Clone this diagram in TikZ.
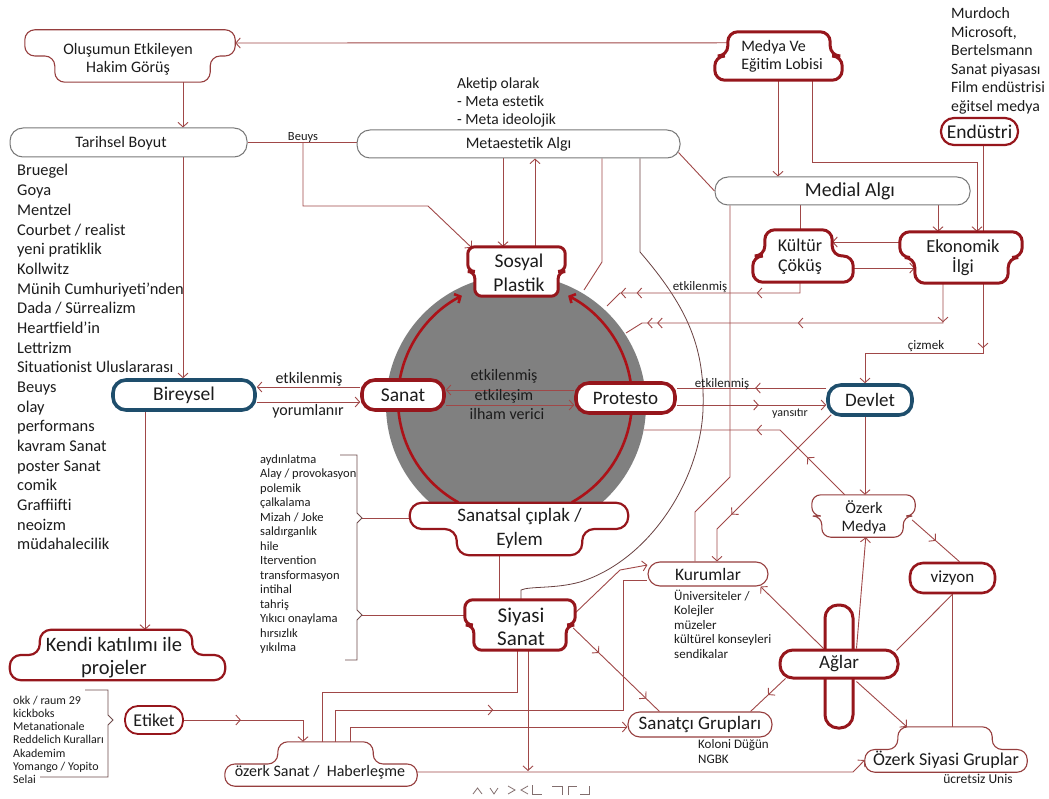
\documentclass[tikz,border=0pt]{standalone}
\usepackage{fontspec}
\setmainfont{Carlito}
\usetikzlibrary{arrows.meta,calc,decorations.markings}
\pgfdeclarelayer{back}
\pgfdeclarelayer{bg}
\pgfsetlayers{back,bg,main}
\newcommand\myfs[2]{\fontsize{#1}{#2}\selectfont}
\definecolor{linec}{RGB}{160,72,72}
\definecolor{arcc}{RGB}{105,65,65}
\definecolor{brc}{RGB}{110,75,75}
\definecolor{dred}{RGB}{150,22,28}
\definecolor{tred}{RGB}{150,62,62}
\definecolor{gbord}{RGB}{120,120,120}
\definecolor{blu}{RGB}{30,78,108}
\definecolor{circg}{RGB}{128,128,128}
\definecolor{circr}{RGB}{172,18,24}
\definecolor{txtc}{RGB}{28,28,28}
\definecolor{symc}{RGB}{130,110,110}
\tikzset{
  >={Straight Barb[length=4.5pt,width=10pt]},
  cn/.style={draw=linec, line width=0.9pt},
  am/.style={postaction={decorate,decoration={markings,mark=at position #1 with {\arrow{>}}}}},
  sh/.style={inner sep=0pt, draw=none},
  pill/.style={inner sep=0pt, rounded corners=#1, fill=white, text=txtc},
  pill/.default=13pt,
  thickr/.style={draw=dred, line width=3pt},
  medr/.style={draw=dred, line width=2.2pt},
  thinr/.style={draw=tred, line width=1.1pt},
  grayb/.style={draw=gbord, line width=1pt},
  bluet/.style={draw=blu, line width=3.6pt},
  scr/.style={fill=white, rounded corners=#1},
  scr/.default=10pt,
  tx/.style={inner sep=0pt, text=txtc, align=center},
}
\newcommand\scrollpath[6]{%
  \path[#1] (#2.north) -- ($(#2.north east)+(-#4,0)$) -- ($(#2.east)+(-#4,0)$)
   -- ($(#2.east)+(-#6,0)$) -- ($(#2.south east)+(-#6,0)$)
   -- ($(#2.south west)+(#5,0)$) -- ($(#2.west)+(#5,0)$)
   -- ($(#2.west)+(#3,0)$) -- ($(#2.north west)+(#3,0)$) -- cycle;}
\newcommand\listlines[6]{%
  \foreach \itm [count=\i from 0] in {#6}{%
    \node[tx, anchor=base west, align=left, font=\myfs{#5}{#5}] (#1\i) at (#2,{#3+\i*#4}) {\itm};}}
\begin{document}
\begin{tikzpicture}[x=1pt,y=-1pt]
\begin{pgfonlayer}{back}
\fill[white] (0,0) rectangle (1049,799);
\end{pgfonlayer}
\useasboundingbox (0,0) rectangle (1049,799);

% ---------- invisible shape boxes ----------
\node[sh, minimum width=210pt, minimum height=52pt] (olus) at (130,56) {};
\node[sh, minimum width=127pt, minimum height=48pt] (medya) at (778.5,56) {};
\node[sh, minimum width=100pt, minimum height=52pt] (kultur) at (803,256) {};
\node[sh, minimum width=122pt, minimum height=51pt] (ekonomik) at (961,257.5) {};
\node[sh, minimum width=97pt, minimum height=49pt] (sosyal) at (516.5,271.5) {};
\node[sh, minimum width=218pt, minimum height=52pt] (sanatsal) at (519,529) {};
\node[sh, minimum width=110pt, minimum height=50pt] (siyasi) at (520,625) {};
\node[sh, minimum width=103pt, minimum height=42pt] (ozmed) at (863.5,516) {};
\node[sh, minimum width=162pt, minimum height=45pt] (ozsiy) at (946,749.5) {};
\node[sh, minimum width=192pt, minimum height=44pt] (ozsan) at (321,764) {};
\node[sh, minimum width=215pt, minimum height=50pt] (kendi) at (117.5,655) {};

% ---------- pills ----------
\node[pill, grayb, minimum width=237pt, minimum height=29pt] (tarih) at (128.5,142.5) {};
\node[pill, grayb, minimum width=323pt, minimum height=28pt, font=\myfs{16}{16}] (meta) at (518.5,144) {Metaestetik Algı};
\node[pill, grayb, minimum width=255pt, minimum height=28pt] (medial) at (842.5,191) {};
\node[pill, medr, minimum width=77pt, minimum height=27pt, font=\myfs{19.5}{19.5}] (endustri) at (979.5,131.5) {Endüstri};
\node[pill, thickr, line width=3.6pt, minimum width=82pt, minimum height=30pt, font=\myfs{19.5}{19.5}] (sanat) at (403,395) {Sanat};
\node[pill, thickr, line width=3.6pt, minimum width=99pt, minimum height=30pt, font=\myfs{19}{19}] (protesto) at (625.5,398) {Protesto};
\node[pill, bluet, minimum width=142pt, minimum height=30pt, font=\myfs{19.5}{19.5}] (bireysel) at (184,395) {Bireysel};
\node[pill, bluet, minimum width=84pt, minimum height=30pt, font=\myfs{19}{19}] (devlet) at (870,400) {Devlet};
\node[pill=12pt, thinr, minimum width=120pt, minimum height=24pt, font=\myfs{17.5}{17.5}] (kurumlar) at (708,574) {Kurumlar};
\node[pill=12pt, thinr, minimum width=144pt, minimum height=25pt, font=\myfs{19}{19}] (sanatci) at (700,724.5) {Sanatçı Grupları};
\node[pill=13pt, thickr, minimum width=28pt, minimum height=123pt] (aglarV) at (839,666.5) {};
\node[pill=13pt, thickr, minimum width=118pt, minimum height=28pt, font=\myfs{19}{19}] (aglarH) at (839,664) {Ağlar};
\node[pill, thickr, line width=2.6pt, minimum width=85pt, minimum height=30pt, font=\myfs{17}{17}] (vizyon) at (952.5,578) {vizyon};
\node[pill, medr, line width=1.8pt, minimum width=58pt, minimum height=28pt, font=\myfs{18}{18}] (etiket) at (154,720) {Etiket};

% ---------- scroll outlines ----------
\scrollpath{scr, thinr}{olus}{0}{0}{30}{25}
\scrollpath{scr, thickr}{medya}{13}{12}{0}{0}
\scrollpath{scr, thickr}{kultur}{12}{21}{0}{0}
\scrollpath{scr, thickr}{ekonomik}{0}{0}{15}{14}
\scrollpath{scr=7pt, thickr}{sosyal}{0}{0}{7}{7}
\scrollpath{scr=12pt, medr}{sanatsal}{0}{0}{47}{46}
\scrollpath{scr=8pt, thickr}{siyasi}{0}{0}{9}{9}
\scrollpath{scr=9pt, thinr}{ozmed}{0}{0}{10}{12}
\scrollpath{scr, thinr}{ozsiy}{33}{35}{0}{0}
\scrollpath{scr, thinr}{ozsan}{53}{44}{0}{0}
\scrollpath{scr=11pt, medr}{kendi}{30}{33}{0}{0}

% ---------- texts in shapes ----------
\node[tx, font=\myfs{16}{18}] (olusT) at (128,59.5) {Oluşumun Etkileyen\\Hakim Görüş};
\node[tx, font=\myfs{16}{16}] (tarihT) at (121,143) {Tarihsel Boyut};
\node[tx, font=\myfs{19.8}{19.8}] (medialT) at (850,191) {Medial Algı};
\node[tx, align=left, font=\myfs{16}{18}] (medyaT) at (782,56) {Medya Ve\\Eğitim Lobisi};
\node[tx, font=\myfs{18}{20}] (kulturT) at (800,257) {Kültür\\Çöküş};
\node[tx, font=\myfs{18.4}{20}] (ekonomikT) at (963,257.5) {Ekonomik\\İlgi};
\node[tx, font=\myfs{19.5}{24}] (sosyalT) at (519,272.5) {Sosyal\\Plastik};
\node[tx, font=\myfs{19}{24}] (sanatsalT) at (519.5,528) {Sanatsal çıplak /\\Eylem};
\node[tx, font=\myfs{21}{23}] (siyasiT) at (521,626.5) {Siyasi\\Sanat};
\node[tx, font=\myfs{16}{18}] (ozmedT) at (864,517) {Özerk\\Medya};
\node[tx, anchor=base, font=\myfs{18}{18}] (ozsiyT) at (946,765) {Özerk Siyasi Gruplar};
\node[tx, anchor=base, font=\myfs{16}{16}] (ozsanT) at (320,776) {özerk Sanat /\ \ Haberleşme};
\node[tx, font=\myfs{20.5}{23}] (kendiT) at (114,657.5) {Kendi katılımı ile\\projeler};

% ---------- labels ----------
\node[tx, anchor=base, font=\myfs{16}{16}] (cA) at (504,381) {etkilenmiş};
\node[tx, anchor=base, font=\myfs{16}{16}] (cB) at (504,400) {etkileşim};
\node[tx, anchor=base, font=\myfs{16}{16}] (cC) at (507,419) {ilham verici};
\node[tx, anchor=base, font=\myfs{16}{16}] (lbE) at (309,383) {etkilenmiş};
\node[tx, anchor=base, font=\myfs{16}{16}] (lbY) at (308,415) {yorumlanır};
\node[tx, anchor=base, font=\myfs{13}{13}] (lbE2) at (722,387) {etkilenmiş};
\node[tx, anchor=base, font=\myfs{12}{12}] (lbYa) at (790,416) {yansıtır};
\node[tx, anchor=base, font=\myfs{13}{13}] (lbC) at (926,350) {çizmek};
\node[tx, anchor=base, font=\myfs{13}{13}] (lbE3) at (700,291) {etkilenmiş};
\node[tx, anchor=base, font=\myfs{12.5}{12.5}] (lbB) at (303,141) {Beuys};
\node[tx, anchor=base, font=\myfs{13.5}{13.5}] (lbU) at (978,783) {ücretsiz Unis};

% ---------- lists ----------
\listlines{L}{17}{176}{19.68}{16.4}{Bruegel,Goya,Mentzel,Courbet / realist,yeni pratiklik,Kollwitz,Münih Cumhuriyeti'nden,Dada / Sürrealizm,Heartfield'in,Lettrizm,Situationist Uluslararası,Beuys,olay,performans,kavram Sanat,poster Sanat,comik,Graffiifti,neoizm,müdahalecilik}
\listlines{A}{457}{89}{17.75}{15.5}{Aketip olarak,- Meta estetik,- Meta ideolojik}
\listlines{M}{951}{19}{18.5}{15.8}{Murdoch,{Microsoft,},Bertelsmann,Sanat piyasası,Film endüstrisi,eğitsel medya}
\listlines{K}{260}{463.5}{14.46}{12.5}{aydınlatma,Alay / provokasyon,polemik,çalkalama,Mizah / Joke,saldırganlık,hile,Itervention,transformasyon,intihal,tahriş,Yıkıcı onaylama,hırsızlık,yıkılma}
\listlines{O}{13}{704}{13.33}{12}{okk / raum 29,kickboks,Metanationale,Reddelich Kuralları,Akademim,Yomango / Yopito,Selai}
\listlines{U}{674}{600}{14.5}{13}{Üniversiteler /,Kolejler,müzeler,kültürel konseyleri,sendikalar}
\listlines{G}{698}{748}{15}{13}{Koloni Düğün,NGBK}

% ---------- free coordinates ----------
\coordinate (gA) at (584,290);
\coordinate (gB) at (607,306);
\coordinate (gC) at (626,333);
\coordinate (gD) at (644,430);
\coordinate (n1) at (362,518);
\coordinate (n2) at (362,615);
\coordinate (j1) at (528,771);

\begin{pgfonlayer}{bg}
\fill[circg] (516,405) circle[radius=130];
\draw[circr, line width=2.6pt, ->] ($(515,400)+(119:117)$) arc[start angle=119, end angle=243, radius=117];
\draw[circr, line width=2.6pt, ->] ($(515,400)+(61:117)$) arc[start angle=61, end angle=-63, radius=117];

% top
\draw[cn,->] ($(medya.north west)+(13,11)$) -- (olus.east |- 0,43);
\draw[cn,->] (183,0 |- olus.south) -- (183,0 |- tarih.north);
\draw[cn] (tarih.east) -- (tarih.east -| meta.west);
\draw[cn,->] (303,0 |- tarih.east) -- (303,206) -- (428,206) -- ($(sosyal.north west)+(4,1)$);
\draw[cn,->] (503,0 |- meta.south) -- (503,0 |- sosyal.north);
\draw[cn,->] (535,0 |- sosyal.north) -- (535,0 |- meta.south);
\draw[cn] (602,0 |- meta.south) -- (602,262) -- (gA);
\draw[draw=arcc, line width=0.8pt] (640,0 |- meta.south) -- (640,252) .. controls (690,310) and (705,350) .. (703,410) .. controls (700,480) and (650,560) .. (580,582) .. controls (555,589) and (530,586) .. (521,590) -- (521,0 |- siyasi.north);
\draw[cn] ($(meta.south east)+(-2,-6)$) -- (medial.west);
\draw[cn,->] (778,0 |- medya.south) -- (778,0 |- medial.north);
\draw[cn,->] (812,0 |- medya.south) -- (812,162) -- (977,162) -- (977,0 |- ekonomik.north);
\draw[cn] (983,0 |- endustri.south) -- (983,0 |- ekonomik.north);
\draw[cn] (800,0 |- medial.south) -- (800,0 |- kultur.north);
\draw[cn,->] (938,0 |- medial.south) -- (938,0 |- ekonomik.north);
\draw[cn,->] (ekonomik.west |- 0,242) -- ($(kultur.east |- 0,242)+(-21,0)$);
\draw[cn,->] (kultur.east |- 0,268) -- ($(ekonomik.west |- 0,268)+(15,0)$);
\draw[cn, am=54pt, am=-19pt, am=-35pt] (800,0 |- kultur.south) -- (800,293) -- (620,293) -- (gB);
\draw[cn, am=39pt, am=185pt, am=-24pt, am=-34pt] (943,0 |- ekonomik.south) -- (943,323) -- (642,323) -- (gC);
\draw[cn, ->, am=65pt] (983,0 |- ekonomik.south) -- (983,353) -- (865,353) -- (865,0 |- devlet.north);

% middle
\draw[cn,->] (183,0 |- tarih.south) -- (183,0 |- bireysel.north);
\draw[cn,->] (145,0 |- bireysel.south) -- (145,0 |- kendi.north);
\draw[cn,->] (sanat.west |- 0,387) -- (bireysel.east |- 0,387);
\draw[cn,->] (bireysel.east |- 0,402) -- (sanat.west |- 0,402);
\draw[cn,->] (protesto.west |- 0,390) -- (sanat.east |- 0,390);
\draw[cn,->] (sanat.east |- 0,405) -- (protesto.west |- 0,405);
\draw[cn, am=71pt] (devlet.west |- 0,388) -- (protesto.east |- 0,388);
\draw[cn, ->, am=82pt] (protesto.east |- 0,405) -- (devlet.west |- 0,405);
\draw[cn, am=53pt, am=115pt] ($(ozmed.north west)+(33,0)$) -- (780,430) -- (gD);
\draw[cn,->] (865,0 |- devlet.south) -- (865,0 |- ozmed.north);
\draw[cn, ->, am=141pt] ($(devlet.south west)+(5,-2)$) -- (717,529) -- (717,0 |- kurumlar.north);
\draw[cn] (730,0 |- medial.south) -- (730,477) -- (695,512) -- (695,0 |- kurumlar.north);

% lower
\draw[cn] (499,0 |- sanatsal.south) -- (499,0 |- siyasi.north);
\draw[cn] (n1) -- (sanatsal.west |- n1);
\draw[cn] (n2) -- (siyasi.west |- n2);
\draw[cn,->] ($(siyasi.east)+(0,-12)$) -- (620,570) -- ($(kurumlar.west)+(0,-9)$);
\draw[cn, am=0.3, am=0.85] ($(siyasi.east)+(-2,3)$) -- ($(sanatci.north west)+(32,0)$);
\draw[cn] (517,0 |- siyasi.south) -- (517,692) -- (322,692) -- (322,0 |- ozsan.north);
\draw[cn, am=190pt] (335,0 |- ozsan.north) -- (335,710) -- (623,710) -- (623,580) -- (kurumlar.west |- 0,580);
\draw[cn,->] (350,0 |- ozsan.north) -- (350,727) -- (sanatci.west |- 0,727);
\draw[cn,->] (528,0 |- siyasi.south) -- (j1);
\draw[cn,->] (ozsan.east |- 0,772) -- (853,772) -- (ozsiy.west |- 0,760);
\draw[cn,->, am=57pt] (etiket.east) -- (303,720) -- (303,0 |- ozsan.north);
\draw[cn,->] (aglarV.west |- aglarH.north) -- ($(kurumlar.south east)+(-8,0)$);
\draw[cn, am=0.5] ($(aglarH.south west)+(7,-1)$) -- ($(sanatci.north east)+(-22,0)$);
\draw[cn,->] ($(aglarV.east |- aglarH.north)+(2,0)$) -- ($(ozmed.south west)+(54,0)$);
\draw[cn] ($(aglarH.north east)+(-3,2)$) -- (vizyon.south);
\draw[cn,->] ($(aglarV.east |- aglarH.south)+(2,2)$) -- ($(ozsiy.north west)+(42,0)$);
\draw[cn] (vizyon.south) -- (vizyon.south |- ozsiy.north);
\draw[cn, am=0.5] ($(ozmed.east)+(-3,4)$) -- ($(vizyon.north)+(7,0)$);

% brackets
\draw[draw=brc, line width=0.9pt] (340,455) -- (357,455) -- (357,513) -- (n1) -- (357,523) -- (357,610) -- (n2) -- (357,620) -- (357,660) -- (345,660);
\draw[draw=brc, line width=0.9pt] (85,690) -- (108,690) -- (108,715) -- (113,720) -- (108,725) -- (108,777) -- (40,777);

% small symbols
\begin{scope}[draw=symc, line width=0.8pt]
\draw (473,794) -- (477.5,788) -- (482,794);
\draw (490,788) -- (494,794) -- (498,788);
\draw (508,786) -- (515,790) -- (508,794);
\draw (528,786) -- (521,790) -- (528,794);
\draw (532,785) -- (532,794) -- (542,794);
\draw (552,786) -- (562,786) -- (562,795);
\draw (568,795) -- (568,786) -- (577,786);
\draw (580,794) -- (589,794) -- (589,786);
\end{scope}
\end{pgfonlayer}
\end{tikzpicture}
\end{document}
